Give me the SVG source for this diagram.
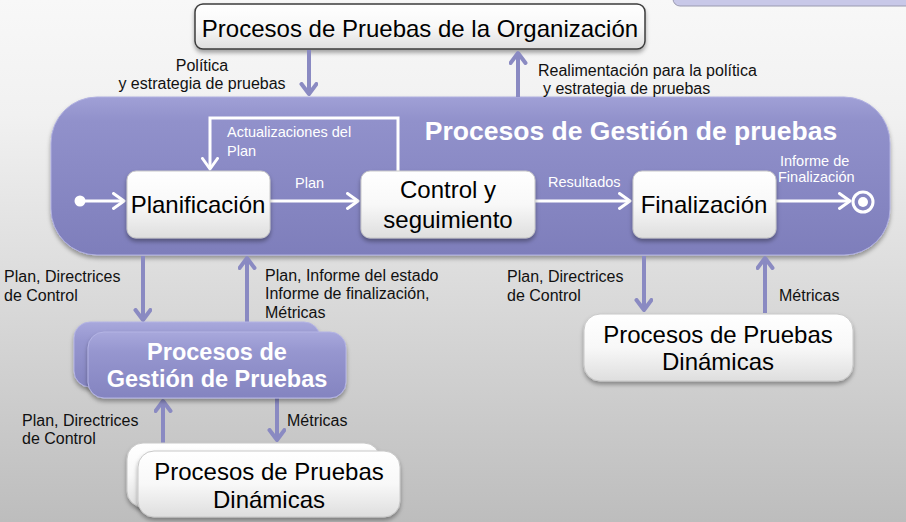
<svg xmlns="http://www.w3.org/2000/svg" width="906" height="522" viewBox="0 0 906 522">
<defs>
<linearGradient id="bg" x1="0" y1="0" x2="0" y2="1">
<stop offset="0" stop-color="#f8f8f8"/>
<stop offset="0.22" stop-color="#f1f1f1"/>
<stop offset="1" stop-color="#bdbdbd"/>
</linearGradient>
<linearGradient id="wbox" x1="0" y1="0" x2="0" y2="1">
<stop offset="0" stop-color="#ffffff"/>
<stop offset="0.5" stop-color="#f8f8f8"/>
<stop offset="1" stop-color="#dedede"/>
</linearGradient>
<linearGradient id="pbig" x1="0" y1="0" x2="0" y2="1">
<stop offset="0" stop-color="#a0a0d6"/>
<stop offset="0.15" stop-color="#9191cb"/>
<stop offset="1" stop-color="#7e7ebb"/>
</linearGradient>
<linearGradient id="pbox" x1="0" y1="0" x2="0" y2="1">
<stop offset="0" stop-color="#a8a8dc"/>
<stop offset="0.3" stop-color="#9696cf"/>
<stop offset="1" stop-color="#8484c0"/>
</linearGradient>
<filter id="sh" x="-10%" y="-10%" width="120%" height="140%">
<feDropShadow dx="0" dy="3" stdDeviation="2" flood-color="#000" flood-opacity="0.35"/>
</filter>
<marker id="aw" markerUnits="userSpaceOnUse" markerWidth="20" markerHeight="20" refX="12" refY="9" orient="auto">
<path d="M1.5,1.5 L12,9 L1.5,16.5" fill="none" stroke="#ffffff" stroke-width="3" stroke-linecap="round" stroke-linejoin="round"/>
</marker>
<marker id="ap" markerUnits="userSpaceOnUse" markerWidth="20" markerHeight="20" refX="12" refY="9" orient="auto">
<path d="M2,1.5 L12,9 L2,16.5" fill="none" stroke="#8a8ac2" stroke-width="4" stroke-linecap="round" stroke-linejoin="round"/>
</marker>
</defs>
<style>
text{font-family:"Liberation Sans",Arial,sans-serif;}
.node{font-size:24px;fill:#000;text-anchor:middle;}
.lbl{font-size:16px;fill:#111;}
.wlbl{font-size:14.5px;fill:#ffffff;}
.wbold{font-weight:bold;fill:#ffffff;text-anchor:middle;}
.wb{fill:url(#wbox);stroke:#c8c8c8;stroke-width:1;filter:url(#sh);}
.pb{fill:url(#pbox);stroke:#b4b4e4;stroke-width:1;filter:url(#sh);}
.cw{fill:none;stroke:#ffffff;stroke-width:3;marker-end:url(#aw);}
.cp{fill:none;stroke:#8a8ac2;stroke-width:4;marker-end:url(#ap);}
</style>
<rect x="0" y="0" width="906" height="522" fill="url(#bg)"/>
<g id="corner-box">
<rect x="673" y="-20" width="250" height="26" rx="7" fill="#c8c8e8" stroke="#9a9ab0" stroke-width="1"/>
</g>
<g id="org">
<rect x="195" y="4" width="450" height="45" rx="8" fill="url(#wbox)" stroke="#3c3c3c" stroke-width="1.5" filter="url(#sh)"/>
<text class="node" x="420" y="37">Procesos de Pruebas de la Organización</text>
</g>
<g id="gestion-main">
<rect x="51" y="97" width="839" height="158" rx="46" fill="url(#pbig)" stroke="#b0b0e0" stroke-width="1" filter="url(#sh)"/>
<text class="wbold" x="631" y="140" font-size="26.5">Procesos de Gestión de pruebas</text>
</g>
<g id="connectors">
<path class="cp" d="M309,50 V94"/>
<path class="cp" d="M518,97 V53"/>
<circle cx="80" cy="201" r="5.5" fill="#ffffff"/>
<path class="cw" d="M80,201 H124"/>
<path class="cw" d="M398,171 V118 H210 V169"/>
<path class="cw" d="M270,201 H358"/>
<path class="cw" d="M535,201 H630"/>
<path class="cw" d="M776,201 H850"/>
<circle cx="863" cy="202" r="10" fill="none" stroke="#ffffff" stroke-width="3"/>
<circle cx="863" cy="202" r="5" fill="#ffffff"/>
<path class="cp" d="M143,256 V320"/>
<path class="cp" d="M247,322 V258"/>
<path class="cp" d="M644,256 V310"/>
<path class="cp" d="M765,313 V258"/>
<path class="cp" d="M163,443 V401"/>
<path class="cp" d="M277,398 V440"/>
</g>
<g id="labels">
<text class="lbl" x="202" y="71" text-anchor="middle">Política</text>
<text class="lbl" x="202" y="89" text-anchor="middle">y estrategia de pruebas</text>
<text class="lbl" x="538" y="76">Realimentación para la política</text>
<text class="lbl" x="543" y="94">y estrategia de pruebas</text>
<text class="wlbl" x="227" y="137">Actualizaciones del</text>
<text class="wlbl" x="227" y="156">Plan</text>
<text class="wlbl" x="295" y="188">Plan</text>
<text class="wlbl" x="548" y="187">Resultados</text>
<text class="wlbl" x="780" y="166">Informe de</text>
<text class="wlbl" x="778" y="182">Finalización</text>
<text class="lbl" x="4" y="282">Plan, Directrices</text>
<text class="lbl" x="4" y="301">de Control</text>
<text class="lbl" x="265" y="281">Plan, Informe del estado</text>
<text class="lbl" x="265" y="299">Informe de finalización,</text>
<text class="lbl" x="265" y="318">Métricas</text>
<text class="lbl" x="507" y="282">Plan, Directrices</text>
<text class="lbl" x="507" y="301">de Control</text>
<text class="lbl" x="779" y="301">Métricas</text>
<text class="lbl" x="22" y="426">Plan, Directrices</text>
<text class="lbl" x="22" y="444">de Control</text>
<text class="lbl" x="287" y="426">Métricas</text>
</g>
<g id="planificacion">
<rect class="wb" x="127" y="171" width="143" height="67" rx="9"/>
<text class="node" x="198" y="213">Planificación</text>
</g>
<g id="control">
<rect class="wb" x="361" y="171" width="174" height="67" rx="9"/>
<text class="node" x="448" y="198">Control y</text>
<text class="node" x="448" y="228">seguimiento</text>
</g>
<g id="finalizacion">
<rect class="wb" x="633" y="171" width="143" height="67" rx="9"/>
<text class="node" x="704" y="213">Finalización</text>
</g>
<g id="dinamicas-right">
<rect class="wb" x="584" y="314" width="269" height="67" rx="16"/>
<text class="node" x="718" y="343">Procesos de Pruebas</text>
<text class="node" x="718" y="370">Dinámicas</text>
</g>
<g id="gestion-sub">
<rect class="pb" x="74" y="322" width="246" height="65" rx="16"/>
<rect class="pb" x="88" y="332" width="258" height="66" rx="16"/>
<text class="wbold" x="217" y="360" font-size="23.5">Procesos de</text>
<text class="wbold" x="217" y="387" font-size="23.5">Gestión de Pruebas</text>
</g>
<g id="dinamicas-left">
<rect class="wb" x="127" y="443" width="253" height="64" rx="16"/>
<rect class="wb" x="138" y="451" width="262" height="66" rx="16"/>
<text class="node" x="269" y="480">Procesos de Pruebas</text>
<text class="node" x="269" y="508">Dinámicas</text>
</g>
</svg>
